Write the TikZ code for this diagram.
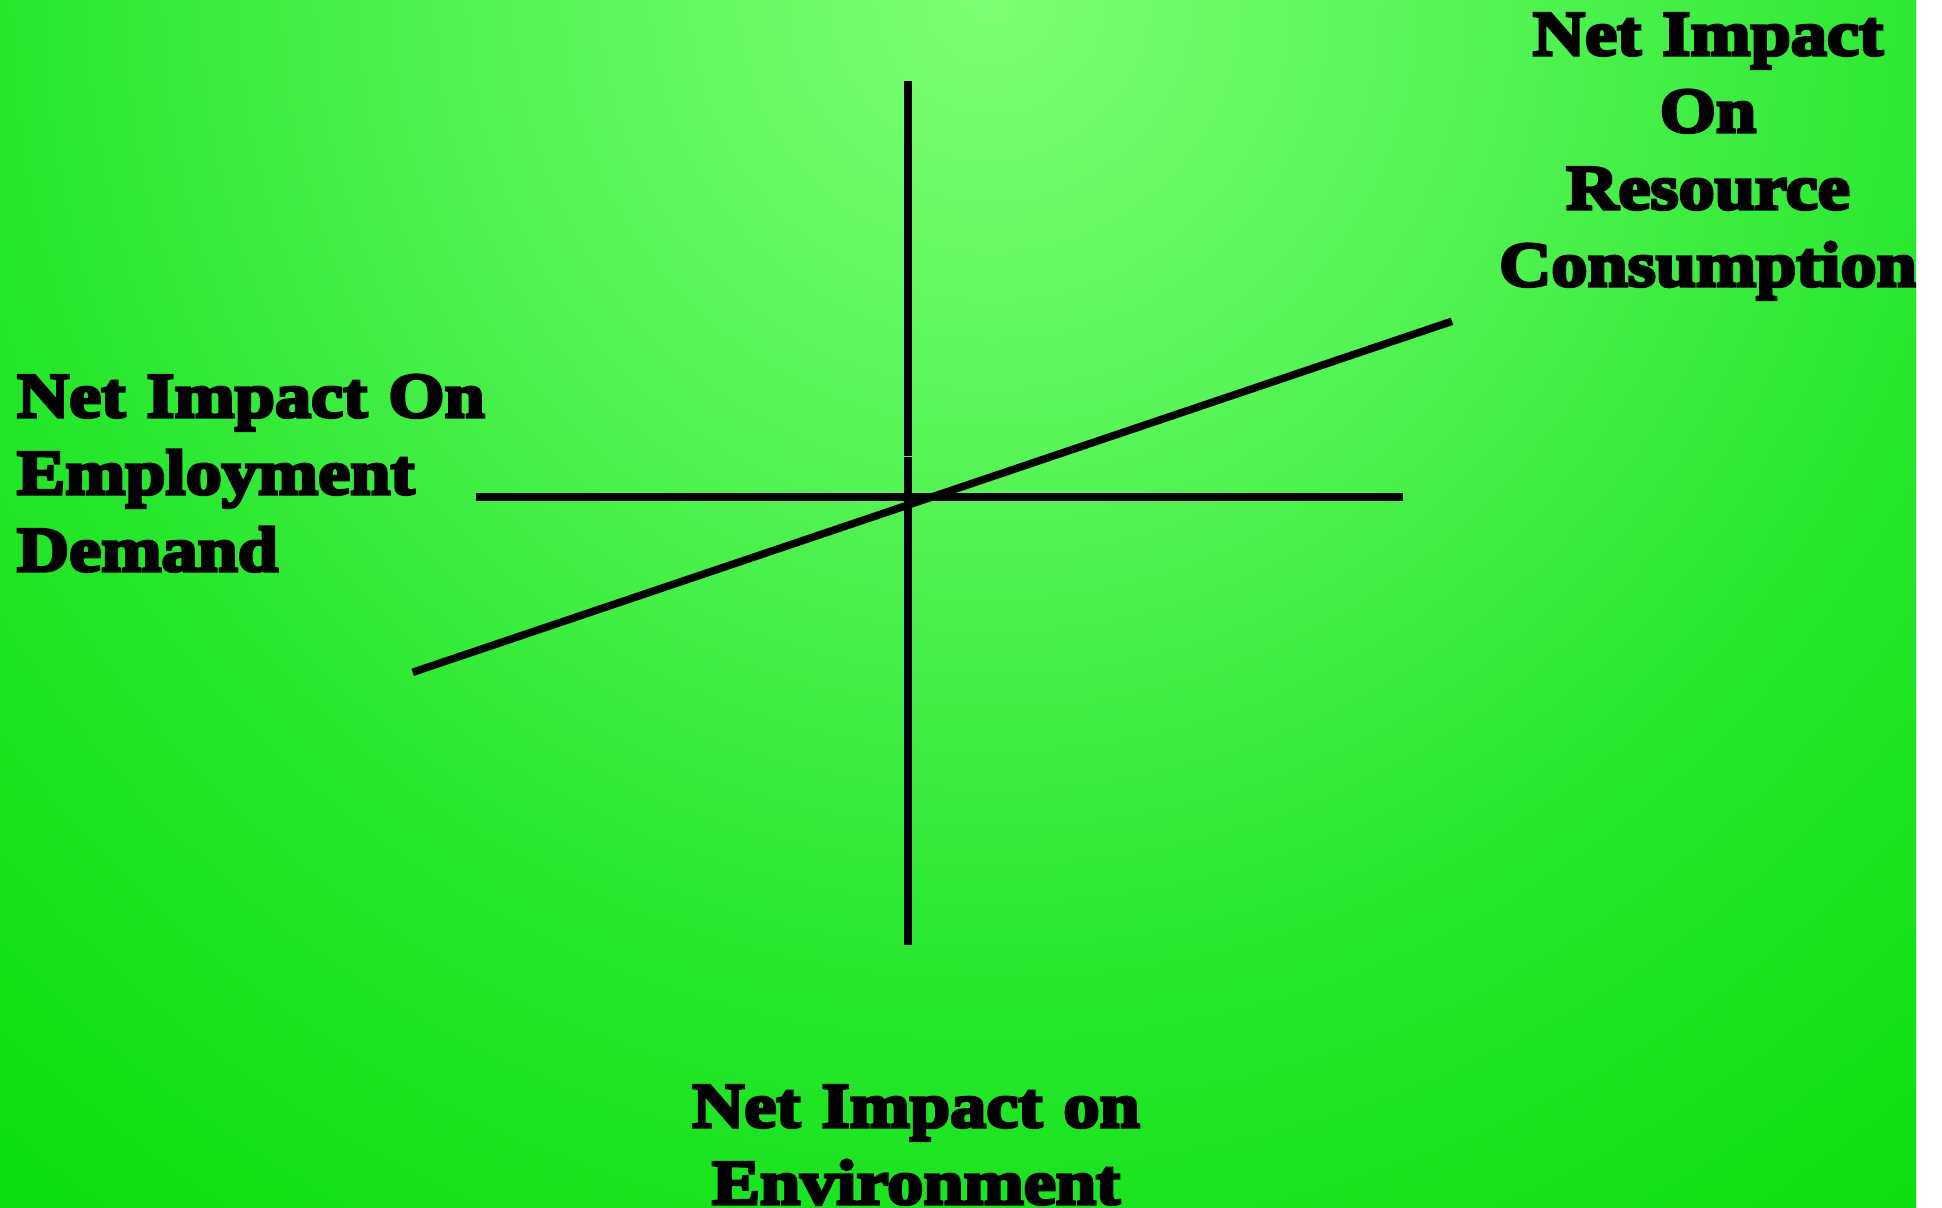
\documentclass[tikz,border=0pt]{standalone}
\usepackage{fontspec}
\newfontfamily\posterfont[FakeBold=5,FakeStretch=1.14]{Liberation Serif}
\definecolor{g0}{RGB}{124,255,116}
\definecolor{g1}{RGB}{84,244,84}
\definecolor{g2}{RGB}{38,231,44}
\definecolor{g3}{RGB}{10,222,12}
\pgfdeclareradialshading{bgshade}{\pgfpoint{0bp}{0bp}}{color(0bp)=(g0); color(7.8bp)=(g1); color(15.6bp)=(g2); color(24.4bp)=(g3); color(25bp)=(g3); color(50bp)=(g3)}
\tikzset{
  axisline/.style={line width=3.8pt, black},
  lbl/.style={inner sep=0pt, outer sep=0pt, font=\posterfont\bfseries\fontsize{31.7pt}{38.5pt}\selectfont, text=black}
}
\begin{document}
\begin{tikzpicture}[x=0.5pt,y=-0.5pt]
\useasboundingbox (0,0) rectangle (1942,1208);
\fill[white] (0,0) rectangle (1942,1208);
\begin{scope}
  \clip (0,0) rectangle (1916,1208);
  \shade[shading=bgshade] (-610,-1600) rectangle (2590,1600);
  % axes
  \coordinate (vtop) at (908,81);
  \coordinate (vgapa) at (908,456.4);
  \coordinate (vgapb) at (908,457.4);
  \coordinate (vbot) at (908,944.7);
  \coordinate (hleft) at (476,497);
  \coordinate (hright) at (1403,497);
  \coordinate (dleft) at (412.7,672.3);
  \coordinate (dright) at (1452,321.3);
  \draw[axisline, line width=4pt] (vtop) -- (vgapa);
  \draw[axisline, line width=4pt] (vgapb) -- (vbot);
  \draw[axisline] (hleft) -- (hright);
  \draw[axisline] (dleft) -- (dright);
  % labels
  \node[lbl, text width=300pt, align=left, anchor=base west] (emp) at (17,417) {Net Impact On\\Employment\\Demand};
  \node[lbl, text width=600pt, align=center, anchor=base] (res) at (1708,55) {Net Impact\\On\\Resource\\Consumption};
  \node[lbl, text width=600pt, align=center, anchor=base] (env) at (916,1127) {Net Impact on\\Environment};
\end{scope}
\end{tikzpicture}
\end{document}
